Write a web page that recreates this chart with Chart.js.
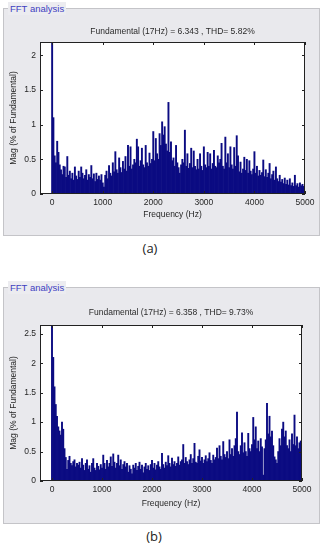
<!DOCTYPE html>
<html>
<head>
<meta charset="utf-8">
<title>FFT analysis</title>
<script src="https://cdn.jsdelivr.net/npm/chart.js@4.4.0/dist/chart.umd.min.js"></script>
<style>
  html, body { margin: 0; padding: 0; background: #fff; }
  body { width: 326px; height: 547px; position: relative; overflow: hidden; font-family: "Liberation Sans", Arial, sans-serif; }
  .panel { position: absolute; left: 3px; width: 315px; background: #e9e9ed; border: 1px solid #c4c4c8; }
  .panel canvas { position: absolute; left: 0; top: 0; }
  .legend { position: absolute; left: 4px; top: -7px; padding: 0 2px; font-size: 9.5px; line-height: 13px; color: #4040c0; background: #ececf0; }
  .cap { position: absolute; width: 40px; text-align: center; font-family: "Open Sans", sans-serif; font-size: 13px; color: #222; }
</style>
</head>
<body>

<div class="panel" style="top:8px;height:226px;">
  <div class="legend">FFT analysis</div>
  <canvas id="fftA" width="315" height="226"></canvas>
</div>
<div class="cap" style="left:130px;top:239px;">(a)</div>

<div class="panel" style="top:287px;height:235px;">
  <div class="legend">FFT analysis</div>
  <canvas id="fftB" width="315" height="235"></canvas>
</div>
<div class="cap" style="left:134px;top:527px;">(b)</div>

<script>
// frequency bins: one bar every 25 Hz from 0 to 5000 Hz
const binHz = 25;
const freqTicks = [0, 1000, 2000, 3000, 4000, 5000];

// (a) magnitudes, % of fundamental, 10 bins per row (250 Hz per row)
const magA = [
  2.2, 1.1, 0.55, 0.45, 0.76, 0.6, 0.42, 0.35, 0.28, 0.4,      // 0
  0.39, 0.24, 0.54, 0.27, 0.33, 0.22, 0.3, 0.2, 0.39, 0.26,    // 250
  0.21, 0.33, 0.24, 0.39, 0.3, 0.22, 0.27, 0.35, 0.2, 0.28,    // 500
  0.24, 0.41, 0.22, 0.29, 0.18, 0.3, 0.21, 0.26, 0.2, 0.28,    // 750
  0.16, 0.1, 0.27, 0.33, 0.22, 0.41, 0.3, 0.26, 0.45, 0.32,    // 1000
  0.61, 0.35, 0.3, 0.52, 0.38, 0.31, 0.47, 0.36, 0.54, 0.33,   // 1250
  0.7, 0.4, 0.68, 0.36, 0.42, 0.5, 0.45, 0.79, 0.68, 0.4,      // 1500
  0.48, 0.66, 0.42, 0.38, 0.7, 0.45, 0.4, 0.59, 0.44, 0.5,     // 1750
  0.9, 0.48, 0.8, 0.58, 0.5, 0.87, 0.7, 1.04, 0.85, 0.97,      // 2000
  0.72, 0.62, 1.32, 0.6, 0.75, 0.48, 0.52, 0.4, 0.7, 0.45,     // 2250
  0.38, 0.3, 0.42, 0.5, 0.45, 0.92, 0.4, 0.58, 0.37, 0.44,     // 2500
  0.66, 0.38, 0.62, 0.4, 0.35, 0.5, 0.36, 0.58, 0.4, 0.34,     // 2750
  0.68, 0.42, 0.38, 0.6, 0.4, 0.58, 0.36, 0.44, 0.63, 0.4,     // 3000
  0.38, 0.55, 0.45, 0.5, 0.73, 0.4, 0.36, 0.82, 0.45, 0.58,    // 3250
  0.38, 0.68, 0.42, 0.36, 0.67, 0.4, 0.84, 0.55, 0.32, 0.46,   // 3500
  0.3, 0.36, 0.53, 0.34, 0.5, 0.3, 0.48, 0.33, 0.28, 0.36,     // 3750
  0.61, 0.3, 0.4, 0.26, 0.34, 0.27, 0.31, 0.49, 0.25, 0.35,    // 4000
  0.24, 0.3, 0.44, 0.22, 0.28, 0.33, 0.2, 0.39, 0.22, 0.18,    // 4250
  0.27, 0.17, 0.21, 0.15, 0.23, 0.14, 0.2, 0.13, 0.22, 0.12,   // 4500
  0.16, 0.11, 0.27, 0.12, 0.15, 0.1, 0.16, 0.12, 0.14, 0.11,   // 4750
  0.2                                                          // 5000
];

// (b) magnitudes, % of fundamental
const magB = [
  2.65, 2.1, 1.6, 1.3, 1.1, 0.92, 0.85, 0.78, 1.0, 0.88,       // 0
  0.55, 0.4, 0.2, 0.35, 0.42, 0.3, 0.26, 0.33, 0.36, 0.24,     // 250
  0.3, 0.27, 0.32, 0.22, 0.38, 0.27, 0.18, 0.3, 0.36, 0.2,     // 500
  0.26, 0.15, 0.3, 0.38, 0.22, 0.18, 0.3, 0.25, 0.19, 0.28,    // 750
  0.22, 0.44, 0.3, 0.2, 0.35, 0.24, 0.3, 0.41, 0.25, 0.46,     // 1000
  0.32, 0.22, 0.3, 0.44, 0.26, 0.36, 0.2, 0.28, 0.33, 0.24,    // 1250
  0.3, 0.15, 0.26, 0.2, 0.12, 0.27, 0.22, 0.3, 0.18, 0.25,     // 1500
  0.32, 0.2, 0.27, 0.14, 0.24, 0.3, 0.2, 0.26, 0.18, 0.28,     // 1750
  0.35, 0.22, 0.3, 0.19, 0.27, 0.33, 0.24, 0.2, 0.47, 0.28,    // 2000
  0.22, 0.32, 0.26, 0.43, 0.3, 0.24, 0.39, 0.28, 0.33, 0.25,   // 2250
  0.3, 0.41, 0.27, 0.33, 0.36, 0.62, 0.3, 0.4, 0.33, 0.28,     // 2500
  0.36, 0.45, 0.3, 0.38, 0.64, 0.32, 0.3, 0.42, 0.53, 0.34,    // 2750
  0.4, 0.3, 0.36, 0.43, 0.33, 0.38, 0.48, 0.35, 0.3, 0.44,     // 3000
  0.36, 0.4, 0.56, 0.38, 0.6, 0.42, 0.36, 0.67, 0.45, 0.4,     // 3250
  0.5, 0.38, 0.7, 0.45, 0.55, 0.42, 0.6, 0.72, 1.17, 0.5,      // 3500
  0.45, 0.6, 0.82, 0.48, 0.65, 0.5, 0.42, 0.81, 0.55, 0.5,     // 3750
  0.62, 1.08, 0.7, 0.92, 0.55, 0.68, 0.5, 0.72, 0.58, 0.1,     // 4000
  0.55, 0.7, 1.32, 0.8, 1.1, 0.75, 0.85, 0.6, 0.41, 0.36,      // 4250
  0.3, 0.5, 0.72, 0.6, 0.88, 1.0, 0.75, 0.85, 0.6, 0.55,       // 4500
  0.7, 0.5, 0.8, 0.62, 1.12, 0.6, 0.75, 0.55, 0.65, 0.68,      // 4750
  0.41                                                         // 5000
];

const yTicksA = [0, 0.5, 1, 1.5, 2];
const yTicksB = [0, 0.5, 1, 1.5, 2, 2.5];
const titleA = 'Fundamental (17Hz) = 6.343 , THD= 5.82%';
const titleB = 'Fundamental (17Hz) = 6.358 , THD= 9.73%';

Chart.defaults.font.family = '"Liberation Sans", Arial, sans-serif';
Chart.defaults.font.size = 8.5;
Chart.defaults.color = '#262626';

// white axes box with inward ticks on all four sides, like matlab
const matlabBox = {
  id: 'matlabBox',
  beforeDraw(chart) {
    const a = chart.chartArea;
    chart.ctx.save();
    chart.ctx.fillStyle = '#fff';
    chart.ctx.fillRect(a.left, a.top, a.right - a.left, a.bottom - a.top);
    chart.ctx.restore();
  },
  afterDraw(chart) {
    const { ctx, chartArea: a, scales: { x, y } } = chart;
    ctx.save();
    ctx.strokeStyle = '#222';
    ctx.lineWidth = 1;
    ctx.beginPath();
    x.ticks.forEach(t => {
      const px = Math.round(x.getPixelForValue(t.value)) + 0.5;
      ctx.moveTo(px, a.bottom); ctx.lineTo(px, a.bottom - 3);
      ctx.moveTo(px, a.top); ctx.lineTo(px, a.top + 3);
    });
    y.ticks.forEach(t => {
      const py = Math.round(y.getPixelForValue(t.value)) + 0.5;
      ctx.moveTo(a.left, py); ctx.lineTo(a.left + 3, py);
      ctx.moveTo(a.right, py); ctx.lineTo(a.right - 3, py);
    });
    ctx.stroke();
    ctx.strokeRect(Math.round(a.left) + 0.5, Math.round(a.top) + 0.5,
      Math.round(a.right - a.left) - 1, Math.round(a.bottom - a.top) - 1);
    ctx.restore();
  }
};

function makeFft(id, mags, yMax, yTicks, title, g) {
  const ctx = document.getElementById(id);
  return new Chart(ctx.getContext('2d'), {
    type: 'bar',
    data: {
      datasets: [{
        data: mags.map((m, i) => ({ x: i * binHz, y: m })),
        backgroundColor: '#0b0b82',
        borderWidth: 0,
        barPercentage: 1,
        categoryPercentage: 1
      }]
    },
    options: {
      responsive: false,
      animation: false,
      events: [],
      layout: { padding: { left: 5, right: g.right, top: 0, bottom: 0 } },
      plugins: {
        legend: { display: false },
        tooltip: { enabled: false },
        title: {
          display: true,
          text: title,
          fullSize: false,
          color: '#2a2a2a',
          font: { size: 8.5, weight: 'normal' },
          padding: { top: g.titleTop, bottom: g.titleBottom }
        }
      },
      scales: {
        x: {
          type: 'linear',
          offset: false,
          min: -240,
          max: 5000,
          grid: { display: false, drawTicks: false },
          border: { display: false },
          afterBuildTicks: s => { s.ticks = freqTicks.map(v => ({ value: v })); },
          afterFit: s => { s.height = g.xHeight; },
          ticks: { padding: 4, maxRotation: 0, autoSkip: false, callback: v => String(v) },
          title: { display: true, text: 'Frequency (Hz)', font: { size: 8.5 }, padding: { top: 0, bottom: g.xTitleBottom } }
        },
        y: {
          min: 0,
          max: yMax,
          grid: { display: false, drawTicks: false },
          border: { display: false },
          afterBuildTicks: s => { s.ticks = yTicks.map(v => ({ value: v })); },
          afterFit: s => { s.width = 31; },
          ticks: { padding: 4, callback: v => String(v) },
          title: { display: true, text: 'Mag (% of Fundamental)', font: { size: 8.5 }, padding: { top: 0, bottom: 0 } }
        }
      }
    },
    plugins: [matlabBox]
  });
}

makeFft('fftA', magA, 2.19, yTicksA, titleA,
  { right: 14, titleTop: 17.9, titleBottom: 4.9, xHeight: 41, xTitleBottom: 15 });
makeFft('fftB', magB, 2.65, yTicksB, titleB,
  { right: 17, titleTop: 19.9, titleBottom: 6.9, xHeight: 42, xTitleBottom: 14 });
</script>
</body>
</html>
